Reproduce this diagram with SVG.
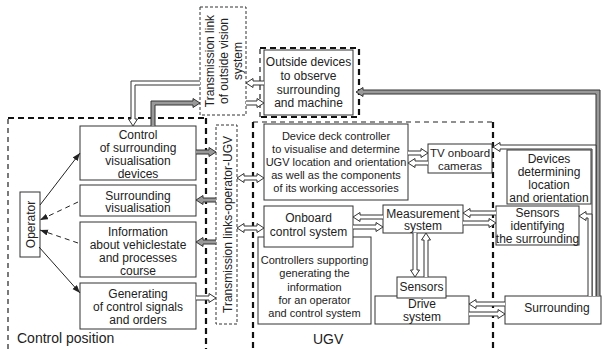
<svg xmlns="http://www.w3.org/2000/svg" width="602" height="349" viewBox="0 0 602 349">
<style>
.t{font-family:"Liberation Sans",Arial,sans-serif;font-size:12px;fill:#222;text-anchor:middle}
.s{font-size:11px}
.m{font-size:11.5px}
.lbl{font-family:"Liberation Sans",Arial,sans-serif;font-size:14px;fill:#222}
.box{fill:#fff;stroke:#333;stroke-width:1}
.dot{fill:none;stroke:#333;stroke-width:1;stroke-dasharray:3 2}
.dthin{fill:none;stroke:#222;stroke-width:1.2;stroke-dasharray:5 4}
.dthick{fill:none;stroke:#111;stroke-width:2.2;stroke-dasharray:6 4}
.hw{fill:#fff;stroke:#333;stroke-width:1}
.hg{fill:#999;stroke:#333;stroke-width:1}
.ln{fill:none;stroke:#222;stroke-width:1}
.dl{fill:none;stroke:#222;stroke-width:1;stroke-dasharray:5 4}
</style>
<defs>
<marker id="ah" markerUnits="userSpaceOnUse" markerWidth="9" markerHeight="7" refX="8" refY="3" orient="auto">
<path d="M0,0 L8,3 L0,6 z" fill="#222"/>
</marker>
</defs>
<rect width="602" height="349" fill="#fff"/>

<g id="regions">
<path class="dthin" d="M8,349 V118"/>
<path class="dthick" d="M8,118 H206"/>
<path class="dthick" d="M206,118 V349"/>
<path class="dthin" d="M253,122 H493"/>
<path class="dthick" d="M253,122 V349"/>
<path class="dthick" d="M493,122 V349"/>
<path class="dthin" d="M260,117 V47"/>
<path class="dthick" d="M260,48 H359 V117 H260"/>
<rect class="dot" x="200" y="7" width="46" height="108"/>
<rect class="dot" x="216" y="125" width="21" height="199"/>
<text class="t" transform="translate(213.5,61) rotate(-90)">Transmission link</text>
<text class="t" transform="translate(228,61) rotate(-90)">of outside vision</text>
<text class="t" transform="translate(242,61) rotate(-90)">system</text>
<text class="t" transform="translate(232,224.5) rotate(-90)">Transmission links-operator-UGV</text>
<text class="lbl" x="17" y="343">Control position</text>
<text class="lbl" x="313" y="344">UGV</text>
</g>

<g id="outside">
<rect class="box" x="264" y="50" width="89" height="65"/>
<text class="t" x="308.5" y="66">Outside devices</text>
<text class="t" x="308.5" y="80">to observe</text>
<text class="t" x="308.5" y="93.5">surrounding</text>
<text class="t" x="308.5" y="107">and machine</text>
</g>
<g id="control">
<rect class="box" x="80" y="126" width="116" height="54"/>
<text class="t" x="138" y="139">Control</text>
<text class="t" x="138" y="152">of surrounding</text>
<text class="t" x="138" y="165">visualisation</text>
<text class="t" x="138" y="178">devices</text>
</g>
<g id="survis">
<rect class="box" x="80" y="185" width="116" height="31"/>
<text class="t" x="138" y="199.5">Surrounding</text>
<text class="t" x="138" y="212">visualisation</text>
</g>
<g id="info">
<rect class="box" x="80" y="222" width="116" height="55"/>
<text class="t" x="138" y="236">Information</text>
<text class="t" x="138" y="249">about vehiclestate</text>
<text class="t" x="138" y="262">and processes</text>
<text class="t" x="138" y="275">course</text>
</g>
<g id="gen">
<rect class="box" x="80" y="283" width="116" height="46"/>
<text class="t" x="138" y="298">Generating</text>
<text class="t" x="138" y="311">of control signals</text>
<text class="t" x="138" y="324">and orders</text>
</g>
<g id="operator">
<rect class="box" x="20" y="192" width="20" height="65"/>
<text class="t" transform="translate(35,224.5) rotate(-90)">Operator</text>
</g>
<g id="deck">
<rect class="box" x="264" y="124" width="144" height="76"/>
<text class="t s" x="336" y="139.5">Device deck controller</text>
<text class="t s" x="336" y="152.5">to visualise and determine</text>
<text class="t s" x="336" y="166">UGV location and orientation</text>
<text class="t s" x="336" y="179">as well as the components</text>
<text class="t s" x="336" y="191.5">of its working accessories</text>
</g>
<g id="tv">
<rect class="box" x="428" y="144" width="64" height="29"/>
<text class="t m" x="460" y="156.5">TV onboard</text>
<text class="t m" x="460" y="170">cameras</text>
</g>
<g id="devices">
<rect class="box" x="507" y="150" width="84" height="54"/>
<text class="t" x="549" y="162.5">Devices</text>
<text class="t" x="549" y="176">determining</text>
<text class="t" x="549" y="189">location</text>
<text class="t" x="549" y="201.5">and orientation</text>
</g>
<g id="sensid">
<rect class="box" x="496" y="206" width="83" height="39"/>
<text class="t" x="537.5" y="216.5">Sensors</text>
<text class="t" x="537.5" y="229.5">identifying</text>
<text class="t" x="537.5" y="243">the surrounding</text>
</g>
<g id="controllers">
<rect class="box" x="258" y="237" width="113" height="87"/>
<text class="t s" x="314.5" y="264">Controllers supporting</text>
<text class="t s" x="314.5" y="277">generating the</text>
<text class="t s" x="314.5" y="290.5">information</text>
<text class="t s" x="314.5" y="304">for an operator</text>
<text class="t s" x="314.5" y="317">and control system</text>
</g>
<g id="onboard">
<rect class="box" x="264" y="206" width="89" height="41"/>
<text class="t" x="308.5" y="222">Onboard</text>
<text class="t" x="308.5" y="236">control system</text>
</g>
<g id="measurement">
<rect class="box" x="383" y="205" width="80" height="28"/>
<text class="t" x="423" y="217.5">Measurement</text>
<text class="t" x="423" y="230">system</text>
</g>
<g id="drive">
<rect class="box" x="375" y="296" width="94" height="28"/>
<text class="t" x="422" y="308">Drive</text>
<text class="t" x="422" y="320.5">system</text>
</g>
<g id="sensors">
<rect class="box" x="397" y="277" width="49" height="21"/>
<text class="t" x="421.5" y="291">Sensors</text>
</g>
<g id="surrounding">
<rect class="box" x="505" y="296" width="96" height="28"/>
<text class="t" x="557" y="312">Surrounding</text>
</g>

<g id="connectors">
<path class="hw" d="M200,81 H131 V119 H128.5 L133,126 L137.5,119 H135 V85 H200"/>
<path class="hg" d="M151,126 V101 H193 V98.5 L200,103 L193,107.5 V105 H155 V126"/>
<path class="hw" d="M264,81 H253 V78.5 L246,83 L253,87.5 V85 H264"/>
<path class="hw" d="M246,101 H257 V98.5 L264,103 L257,107.5 V105 H246"/>
<path class="hg" d="M196,150 H209 V147.5 L216,152 L209,156.5 V154 H196"/>
<path class="hw" d="M244,176 H257 V173.5 L264,178 L257,182.5 V180 H244 V182.5 L237,178 L244,173.5 Z"/>
<path class="hg" d="M216,198 H203 V195.5 L196,200 L203,204.5 V202 H216"/>
<path class="hg" d="M216,240 H203 V237.5 L196,242 L203,246.5 V244 H216"/>
<path class="hw" d="M196,296 H209 V293.5 L216,298 L209,302.5 V300 H196"/>
<path class="hw" d="M244,226 H257 V223.5 L264,228 L257,232.5 V230 H244 V232.5 L237,228 L244,223.5 Z"/>
<path class="hw" d="M408,151 H421 V148.5 L428,153 L421,157.5 V155 H408"/>
<path class="hw" d="M428,161 H415 V158.5 L408,163 L415,167.5 V165 H428"/>
<path class="hw" d="M383,215 H360 V212.5 L353,217 L360,221.5 V219 H383"/>
<path class="hw" d="M353,225 H376 V222.5 L383,227 L376,231.5 V229 H353"/>
<path class="hw" d="M496,211 H470 V208.5 L463,213 L470,217.5 V215 H496"/>
<path class="hw" d="M463,221 H489 V218.5 L496,223 L489,227.5 V225 H463"/>
<path class="hw" d="M413,233 V270 H410.5 L415,277 L419.5,270 H417 V233"/>
<path class="hw" d="M424,277 V240 H421.5 L426,233 L430.5,240 H428 V277"/>
<path class="hw" d="M505,302 H476 V299.5 L469,304 L476,308.5 V306 H505"/>
<path class="hw" d="M469,312 H498 V309.5 L505,314 L498,318.5 V316 H469"/>
<path class="hg" d="M600,296 V90 H363 V87.5 L356,92 L363,96.5 V94 H596 V296"/>
<path class="hw" d="M596,296 V145 H500 V142.5 L493,147 L500,151.5 V149 H592 V296"/>
<path class="hw" d="M592,296 V214 H586 V211.5 L579,216 L586,220.5 V218 H588 V296"/>
<path class="ln" d="M40,205 L80,153" marker-end="url(#ah)"/>
<path class="dl" d="M78,202 L40,220" marker-end="url(#ah)"/>
<path class="dl" d="M78,243 L40,230" marker-end="url(#ah)"/>
<path class="ln" d="M39,247 L80,293" marker-end="url(#ah)"/>
</g>
</svg>
